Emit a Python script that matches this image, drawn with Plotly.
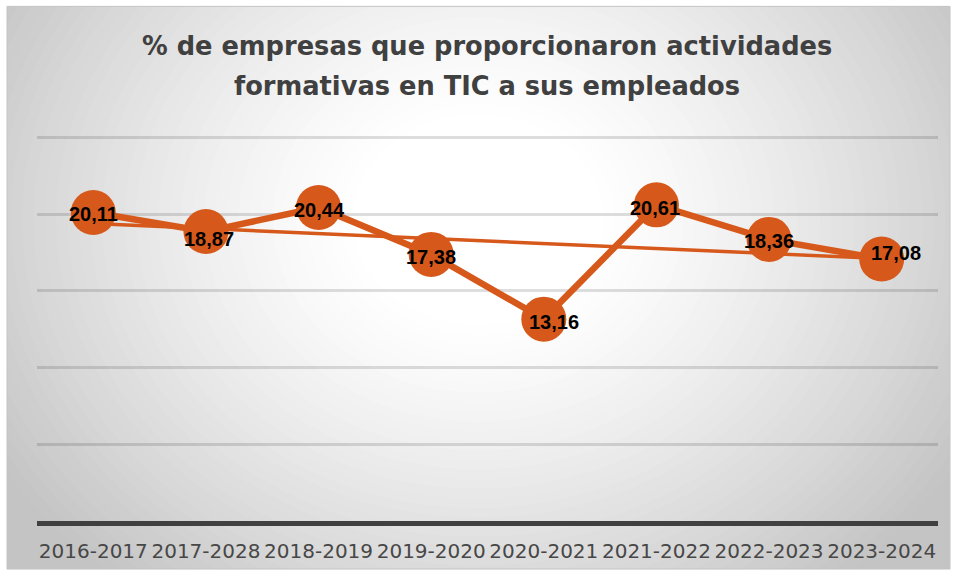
import numpy as np
import plotly.graph_objects as go

# ---------------- data ----------------
categories = ["2016-2017", "2017-2028", "2018-2019", "2019-2020",
              "2020-2021", "2021-2022", "2022-2023", "2023-2024"]
values = [20.11, 18.87, 20.44, 17.38, 13.16, 20.61, 18.36, 17.08]
value_labels = ["20,11", "18,87", "20,44", "17,38", "13,16", "20,61", "18,36", "17,08"]
title_lines = ["% de empresas que proporcionaron actividades",
               "formativas en TIC a sus empleados"]
y_ticks = [0, 5, 10, 15, 20, 25]

# label nudges in pixels (style)
label_shift = [(0, -1), (3, -7), (1, -3), (0, -3), (10, -3), (-1, -3), (0, -2), (14, 6)]

ORANGE = "#D6591B"
W, H = 955, 579
# plot-area pixels
YMAX = 25.1
PX_PER_UNIT = (521 - 138) / 25.0
PL, PR, PB = 37, 938, 521
PT = PB - YMAX * PX_PER_UNIT


def px(x):
    return (x - PL) / (PR - PL)


def py(y):
    return (PB - y) / (PB - PT)


fig = go.Figure()

# linear trendline (Excel style), computed from the series
xi = np.arange(len(values))
slope, intercept = np.polyfit(xi, values, 1)
trend = [intercept + slope * xi[0], intercept + slope * xi[-1]]
fig.add_trace(go.Scatter(x=[categories[0], categories[-1]], y=trend, mode="lines",
                         line=dict(color=ORANGE, width=3.5), hoverinfo="skip",
                         showlegend=False))

fig.add_trace(go.Scatter(x=categories, y=values, mode="lines+markers",
                         line=dict(color=ORANGE, width=6.5),
                         marker=dict(color=ORANGE, size=45, line=dict(width=0)),
                         showlegend=False, cliponaxis=False))

annotations = []
for c, v, t, (dx, dy) in zip(categories, values, value_labels, label_shift):
    annotations.append(dict(x=c, y=v, xref="x", yref="y", text="<b>%s</b>" % t,
                            showarrow=False, xshift=dx, yshift=dy,
                            font=dict(family="Liberation Sans, Arial", size=20, color="#000000")))

for i, (line, ypx) in enumerate(zip(title_lines, [47, 87])):
    annotations.append(dict(x=px(487), y=py(ypx), xref="paper", yref="paper",
                            text="<b>%s</b>" % line, showarrow=False,
                            xanchor="center", yanchor="middle",
                            font=dict(family="DejaVu Sans", size=25.7, color="#404040")))

# background: radial gradient approximated with concentric ellipses
shapes = []
cx, cy, rx, ry = 478, 220, 570, 480
steps = np.arange(1.3, 0.19, -0.02)
for t in steps:
    f = max(0.0, (t - 0.2) / 0.8)
    g = int(round(max(196, 255 - 60 * f ** 1.3)))
    col = "rgb(%d,%d,%d)" % (g, g, g)
    shapes.append(dict(type="circle", xref="paper", yref="paper", layer="below",
                       x0=px(cx - rx * t), x1=px(cx + rx * t),
                       y0=py(cy + ry * t), y1=py(cy - ry * t),
                       fillcolor=col, line=dict(width=0)))
# white outside the chart frame
FX0, FY0, FX1, FY1 = 7, 7, 950, 569
for (a, b, c2, d) in [(-10, -10, W + 10, FY0), (-10, FY1, W + 10, H + 10),
                      (-10, -10, FX0, H + 10), (FX1, -10, W + 10, H + 10)]:
    shapes.append(dict(type="rect", xref="paper", yref="paper", layer="below",
                       x0=px(a), x1=px(c2), y0=py(d), y1=py(b),
                       fillcolor="white", line=dict(width=0)))
shapes.append(dict(type="rect", xref="paper", yref="paper", layer="below",
                   x0=px(FX0), x1=px(FX1), y0=py(FY1), y1=py(FY0),
                   fillcolor="rgba(0,0,0,0)", line=dict(color="#c4c4c4", width=1)))

fig.update_layout(
    width=W, height=H,
    margin=dict(l=PL, r=W - PR, t=PT, b=H - PB, pad=0),
    paper_bgcolor="white", plot_bgcolor="rgba(0,0,0,0)",
    shapes=shapes, annotations=annotations,
    xaxis=dict(type="category", categoryorder="array", categoryarray=categories,
               range=[-0.5, len(categories) - 0.5], showgrid=False,
               showline=True, linecolor="#404040", linewidth=4.5, ticks="",
               tickfont=dict(family="DejaVu Sans", size=20, color="#474747"),
               ticklabelstandoff=8, fixedrange=True),
    yaxis=dict(range=[0, YMAX], tickvals=y_ticks, showticklabels=False, showgrid=True,
               gridcolor="rgba(0,0,0,0.13)", gridwidth=2.5, zeroline=False,
               fixedrange=True),
)

fig.write_html("out.html", config={"displayModeBar": False},
               post_script="document.body.style.margin='0';document.body.style.padding='0';")
